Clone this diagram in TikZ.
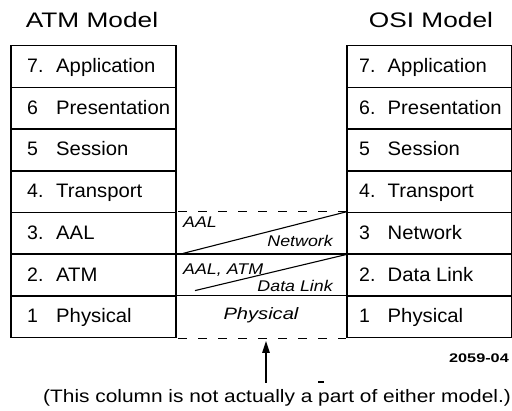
\documentclass[tikz,border=0pt]{standalone}
\usepackage{fontspec}
\setmainfont{Liberation Sans}
\usetikzlibrary{arrows.meta,calc}
\tikzset{
  box/.style={draw, line width=1.5pt, rectangle, inner sep=0pt, minimum width=165pt, minimum height=41.7pt, anchor=north west},
  cell/.style={rectangle, inner sep=0pt, minimum width=172pt, minimum height=41.7pt, anchor=north west},
  rowtext/.style={inner sep=0pt, anchor=base west, font=\fontsize{19.5}{20}\selectfont},
  titletext/.style={inner sep=0pt, anchor=base, font=\fontsize{21}{22}\selectfont},
  midlbl/.style={inner sep=0pt, font=\fontsize{15.5}{16}\selectfont\itshape},
  dashline/.style={line width=1.4pt, dash pattern=on 9pt off 11pt, dash phase=-4pt},
  sepline/.style={line width=1.5pt},
  diag/.style={line width=1.1pt},
  upArrow/.style={line width=1.4pt, -{Triangle[length=12pt,width=7.5pt]}}
}
\begin{document}
\begin{tikzpicture}[x=1pt,y=-1pt]
\useasboundingbox (0,0) rectangle (512,411);
% titles
\node[titletext] (atmT) at (92,28) {\scalebox{1.25}[1]{ATM Model}};
\node[titletext] (osiT) at (431,28) {\scalebox{1.25}[1]{OSI Model}};
% left stack
\foreach \n/\num/\word [count=\i from 0] in {7/7./Application,6/6/Presentation,5/5/Session,4/4./Transport,3/3./AAL,2/2./ATM,1/1/Physical}{
  \node[box] (L\n) at (10,{45+\i*41.7}) {};
  \node[rowtext] (Lt\n) at ($(L\n.west)+(17,6)$) {\makebox[29pt][l]{\num}\scalebox{1.04}[1]{\word}};
}
% right stack
\foreach \n/\num/\word [count=\i from 0] in {7/7./Application,6/6./Presentation,5/5/Session,4/4./Transport,3/3/Network,2/2./Data Link,1/1/Physical}{
  \node[box] (R\n) at (346,{45+\i*41.7}) {};
  \node[rowtext] (Rt\n) at ($(R\n.west)+(13,6)$) {\makebox[28.5pt][l]{\num}\scalebox{1.04}[1]{\word}};
}
% middle column
\node[cell] (M3) at (174,{45+4*41.7}) {};
\node[cell] (M2) at (174,{45+5*41.7}) {};
\node[cell] (M1) at (174,{45+6*41.7}) {};
\draw[dashline] (M3.north west) -- (M3.north east);
\draw[sepline] (M3.south west) -- (M3.south east);
\draw[sepline] (M2.south west) -- (M2.south east);
\coordinate (b1) at ($(M1.south west)+(0,1)$);
\coordinate (b2) at ($(M1.south east)+(0,1)$);
\draw[dashline] (b1) -- (b2);
% diagonals
\coordinate (d1s) at ($(M3.south west)+(9,-0.5)$);
\draw[diag] (d1s) -- (M3.north east);
\coordinate (d2s) at ($(M2.south west)+(21,-5)$);
\coordinate (d2e) at ($(M2.north east)+(0,1)$);
\draw[diag] (d2s) -- (d2e);
% middle labels
\node[midlbl, anchor=base west] (mAAL) at (183,228) {\scalebox{1.15}[1]{AAL}};
\node[midlbl, anchor=base east] (mNet) at (333,247) {\scalebox{1.15}[1]{Network}};
\node[midlbl, anchor=base west] (mAALATM) at (183,275) {\scalebox{1.15}[1]{AAL, ATM}};
\node[midlbl, anchor=base east] (mDL) at (333,292) {\scalebox{1.15}[1]{Data Link}};
\node[midlbl, anchor=base, font=\fontsize{16.5}{17}\selectfont\itshape] (mPhy) at (261,320) {\scalebox{1.22}[1]{Physical}};
% arrow and note
\coordinate (arrS) at (266,383);
\coordinate (arrT) at (266,341);
\draw[upArrow] (arrS) -- (arrT);
\draw[line width=1.5pt] (318,382) -- (324,382);
\node[inner sep=0pt, anchor=base east, font=\fontsize{12.5}{13}\selectfont\bfseries] (fig) at (509,363) {\scalebox{1.3}[1]{2059-04}};
\node[inner sep=0pt, anchor=base west, font=\fontsize{18}{19}\selectfont] (note) at (43,403) {\scalebox{1.16}[1]{(This column is not actually a part of either model.)}};
\end{tikzpicture}
\end{document}
